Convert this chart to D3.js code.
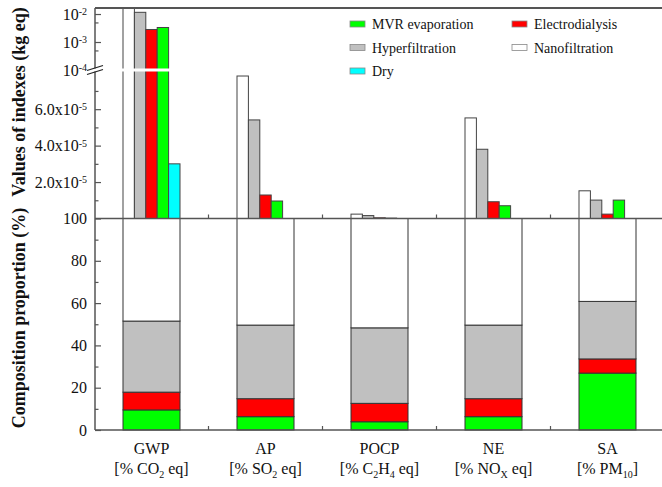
<!DOCTYPE html>
<html>
<head>
<meta charset="utf-8">
<script src="https://cdn.jsdelivr.net/npm/d3@7"></script>
<style>
  body { margin: 0; background: #fff; }
  svg text { font-family: "Liberation Serif", "Times New Roman", serif !important; fill: #111; }
</style>
</head>
<body>
<script>
var width = 662,
    height = 487;

// categories and series
var categories = ["GWP", "AP", "POCP", "NE", "SA"];
var units = [["[% CO", "2", " eq]"], ["[% SO", "2", " eq]"], ["[% C", "2", "H", "4", " eq]"], ["[% NO", "X", " eq]"], ["[% PM", "10", "]"]];

// values of indexes (kg eq)
var nanofiltration  = [0.0158, 7.82e-5, 0.24e-5, 5.52e-5, 1.52e-5];
var hyperfiltration = [0.0115, 5.41e-5, 0.16e-5, 3.80e-5, 1.01e-5];
var electrodialysis = [0.0028, 1.29e-5, 0.04e-5, 0.92e-5, 0.24e-5];
var mvrEvaporation  = [0.0033, 0.96e-5, 0.02e-5, 0.70e-5, 1.01e-5];
var dry             = [3.0e-5, 0, 0, 0, 0];

// composition proportion (%), bottom to top
var mvrPct    = [9.5, 6.3, 3.9, 6.3, 26.9];
var electroPct = [8.4, 8.5, 8.7, 8.5, 6.7];
var hyperPct  = [33.6, 34.8, 35.7, 34.8, 27.2];
var nanoPct   = [48.5, 50.4, 51.7, 50.4, 39.2];

var colors = {
  "MVR evaporation": "#00ff00",
  "Electrodialysis": "#ff0000",
  "Hyperfiltration": "#c0c0c0",
  "Nanofiltration": "#ffffff",
  "Dry": "#00ffff"
};

var topSeries = [
  {name: "Nanofiltration", values: nanofiltration},
  {name: "Hyperfiltration", values: hyperfiltration},
  {name: "Electrodialysis", values: electrodialysis},
  {name: "MVR evaporation", values: mvrEvaporation},
  {name: "Dry", values: dry}
];

var stackKeys = ["MVR evaporation", "Electrodialysis", "Hyperfiltration", "Nanofiltration"];
var pctRows = categories.map(function(c, i) {
  return {cat: c, "MVR evaporation": mvrPct[i], "Electrodialysis": electroPct[i],
          "Hyperfiltration": hyperPct[i], "Nanofiltration": nanoPct[i]};
});

var legendCols = [["MVR evaporation", "Hyperfiltration", "Dry"], ["Electrodialysis", "Nanofiltration"]];

var axisColor = "#555",
    serif = "'Liberation Serif', 'Times New Roman', serif",
    left = 95,
    bottom = 430,
    mid = 218.5,
    brk = 70,
    topEdge = 8,
    linMax = 8.15e-5;

var svg = d3.select("body").append("svg")
    .attr("width", width)
    .attr("height", height)
    .style("font-family", serif);

var x = d3.scaleBand()
    .domain(categories)
    .range([94.5, 664.5])
    .paddingInner(0.5)
    .paddingOuter(0.25);

var xs = d3.scaleBand()
    .domain(topSeries.map(function(s) { return s.name; }))
    .range([0, x.bandwidth()]);

var yPct = d3.scaleLinear().domain([0, 100]).range([bottom, mid]);
var yLin = d3.scaleLinear().domain([0, linMax]).range([mid, brk]);
var yLog = d3.scaleLog().domain([1e-4, 0.0164]).range([brk, topEdge]);

function yTop(v) {
  if (v <= linMax) return yLin(v);
  if (v < 1e-4) return brk;
  return yLog(v);
}

// ---- upper bars
topSeries.forEach(function(s) {
  svg.append("g")
    .selectAll("rect")
    .data(s.values.map(function(v, i) { return {cat: categories[i], v: v}; })
      .filter(function(d) { return d.v > 0; }))
    .enter()
    .append("rect")
    .attr("x", function(d) { return x(d.cat) + xs(s.name); })
    .attr("y", function(d) { return yTop(d.v); })
    .attr("width", xs.bandwidth())
    .attr("height", function(d) { return mid - yTop(d.v); })
    .attr("fill", colors[s.name])
    .attr("stroke", "#444")
    .attr("stroke-width", 1);
});

// ---- lower stacked bars
var stacked = d3.stack().keys(stackKeys)(pctRows);
stacked.forEach(function(layer) {
  svg.append("g")
    .selectAll("rect")
    .data(layer)
    .enter()
    .append("rect")
    .attr("x", function(d) { return x(d.data.cat); })
    .attr("y", function(d) { return yPct(d[1]); })
    .attr("width", x.bandwidth())
    .attr("height", function(d) { return yPct(d[0]) - yPct(d[1]); })
    .attr("fill", colors[layer.key])
    .attr("stroke", "#333")
    .attr("stroke-width", 1);
});

// ---- axis break gap through tall bars
svg.append("rect")
  .attr("x", left + 2)
  .attr("y", brk - 1.5)
  .attr("width", x("GWP") + x.bandwidth() - left + 2)
  .attr("height", 3)
  .attr("fill", "#fff");

// ---- frame lines
[topEdge, mid, bottom].forEach(function(yy) {
  svg.append("line")
    .attr("x1", left).attr("x2", width)
    .attr("y1", yy).attr("y2", yy)
    .attr("stroke", axisColor)
    .attr("stroke-width", yy === topEdge ? 2 : 1.5);
});
svg.append("line")
  .attr("x1", left).attr("x2", left)
  .attr("y1", topEdge).attr("y2", bottom)
  .attr("stroke", axisColor)
  .attr("stroke-width", 1.5);

// x minor ticks between categories
var between = categories.slice(0, -1).map(function(c) {
  return x(c) + x.bandwidth() / 2 + x.step() / 2;
});
[mid, bottom].forEach(function(yy) {
  svg.append("g").selectAll("line")
    .data(between)
    .enter()
    .append("line")
    .attr("x1", function(d) { return d; })
    .attr("x2", function(d) { return d; })
    .attr("y1", yy).attr("y2", yy - 4)
    .attr("stroke", axisColor)
    .attr("stroke-width", 1.2);
});

function styleAxis(g) {
  g.attr("font-family", serif);
  g.select(".domain").remove();
  g.selectAll(".tick line").attr("stroke", axisColor).attr("stroke-width", 1.2);
  g.selectAll(".tick text").attr("font-size", 16).attr("fill", "#111")
    .style("font-family", serif);
}

function supText(sel, base, sup) {
  sel.each(function() {
    var t = d3.select(this);
    t.text(null);
    t.append("tspan").text(base);
    t.append("tspan").attr("dy", "-0.45em").attr("font-size", 10).text(sup);
  });
}

// lower y axis
svg.append("g")
  .attr("transform", "translate(" + left + ",0)")
  .call(d3.axisLeft(yPct).tickValues([0, 20, 40, 60, 80, 100]).tickSize(-6).tickPadding(8))
  .call(styleAxis);
svg.append("g")
  .attr("transform", "translate(" + left + ",0)")
  .call(d3.axisLeft(yPct).tickValues([10, 30, 50, 70, 90]).tickSize(-3.5).tickFormat(""))
  .call(styleAxis);

// upper linear axis
var linAxis = svg.append("g")
  .attr("transform", "translate(" + left + ",0)")
  .call(d3.axisLeft(yLin).tickValues([2e-5, 4e-5, 6e-5]).tickSize(-6).tickPadding(8))
  .call(styleAxis);
linAxis.selectAll(".tick text").each(function(d) {
  supText(d3.select(this), (d / 1e-5).toFixed(1) + "x10", "-5");
});
svg.append("g")
  .attr("transform", "translate(" + left + ",0)")
  .call(d3.axisLeft(yLin).tickValues([1e-5, 3e-5, 5e-5, 7e-5]).tickSize(-3.5).tickFormat(""))
  .call(styleAxis);

// upper log axis
var logAxis = svg.append("g")
  .attr("transform", "translate(" + left + ",0)")
  .call(d3.axisLeft(yLog).tickValues([1e-4, 1e-3, 1e-2]).tickSize(-6).tickPadding(8))
  .call(styleAxis);
logAxis.selectAll(".tick line").filter(function(d) { return d === 1e-4; }).remove();
logAxis.selectAll(".tick text").each(function(d) {
  supText(d3.select(this), "10", String(Math.round(Math.log10(d))));
});
svg.append("g")
  .attr("transform", "translate(" + left + ",0)")
  .call(d3.axisLeft(yLog).tickValues([5e-4, 5e-3]).tickSize(-3.5).tickFormat(""))
  .call(styleAxis);

// break symbol on the axis
svg.append("rect")
  .attr("x", left - 2).attr("y", brk - 1.5)
  .attr("width", 4).attr("height", 3)
  .attr("fill", "#fff");
[brk - 2, brk + 2].forEach(function(yy) {
  svg.append("line")
    .attr("x1", left - 8).attr("y1", yy + 2.5)
    .attr("x2", left + 8).attr("y2", yy - 2.5)
    .attr("stroke", "#222")
    .attr("stroke-width", 1.3);
});

// x labels
var xl = svg.append("g").selectAll("g")
  .data(categories)
  .enter()
  .append("g")
  .attr("transform", function(d) { return "translate(" + (x(d) + x.bandwidth() / 2) + ",0)"; });

xl.append("text")
  .attr("y", 454)
  .attr("text-anchor", "middle")
  .attr("font-size", 16)
  .text(function(d) { return d; });

xl.append("text")
  .attr("y", 474)
  .attr("text-anchor", "middle")
  .attr("font-size", 16)
  .each(function(d, i) {
    var t = d3.select(this);
    units[i].forEach(function(part, j) {
      var sub = j % 2 === 1;
      var ts = t.append("tspan").text(part);
      if (sub) ts.attr("font-size", 10).attr("dy", 4);
      else if (j > 0) ts.attr("dy", -4);
    });
  });

// y titles
svg.append("text")
  .attr("transform", "translate(25,102) rotate(-90)")
  .attr("text-anchor", "middle")
  .attr("font-size", 18)
  .attr("font-weight", "bold")
  .text("Values of indexes (kg eq)");

svg.append("text")
  .attr("transform", "translate(25,318) rotate(-90)")
  .attr("text-anchor", "middle")
  .attr("font-size", 18)
  .attr("font-weight", "bold")
  .text("Composition proportion (%)");

// legend
var colX = [350, 512];
legendCols.forEach(function(col, ci) {
  var lg = svg.append("g").selectAll("g")
    .data(col)
    .enter()
    .append("g")
    .attr("transform", function(d, i) { return "translate(" + colX[ci] + "," + (24 + i * 23.5) + ")"; });
  lg.append("rect")
    .attr("x", 0).attr("y", -3)
    .attr("width", 15).attr("height", 6)
    .attr("fill", function(d) { return colors[d]; })
    .attr("stroke", "#888")
    .attr("stroke-width", 0.8);
  lg.append("text")
    .attr("x", 22)
    .attr("y", 5)
    .attr("font-size", 14)
    .text(function(d) { return d; });
});
</script>
</body>
</html>
